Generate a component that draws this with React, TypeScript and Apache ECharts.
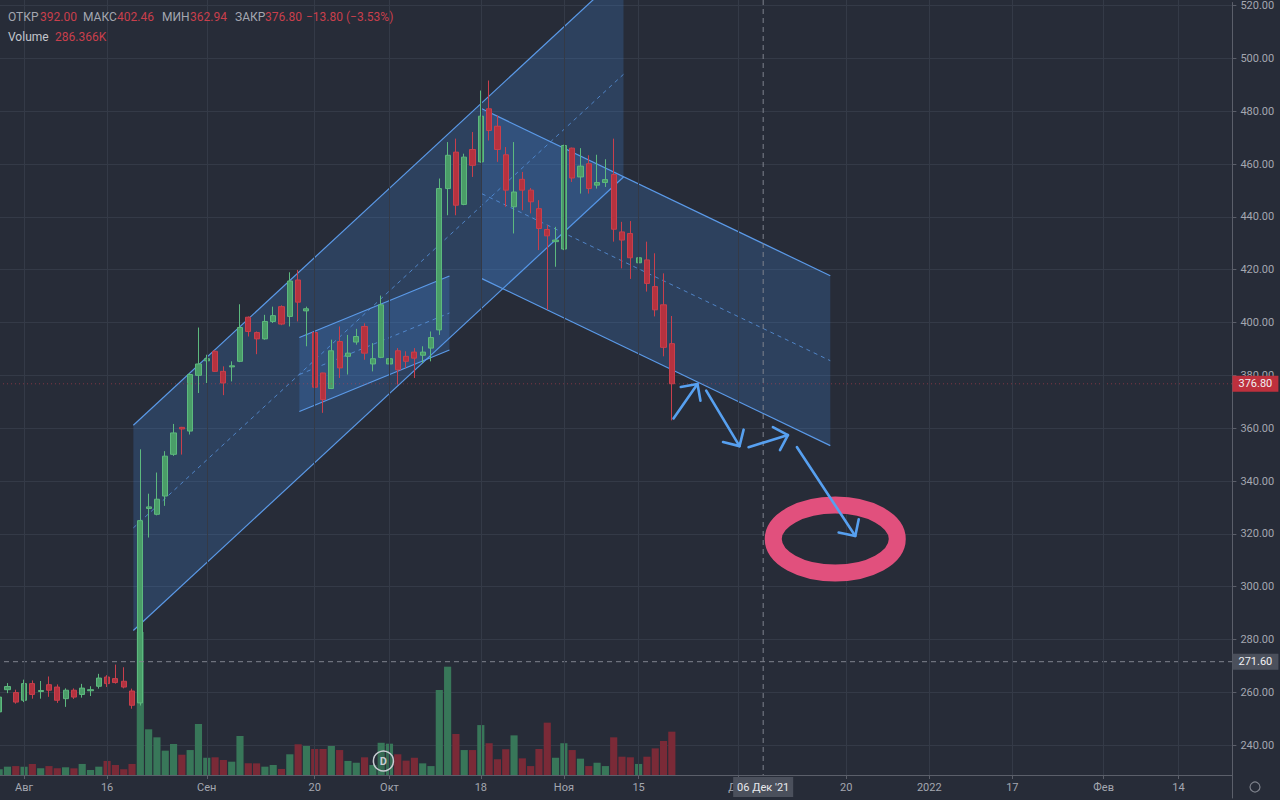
import React, { useEffect, useRef } from "react";
import * as echarts from "echarts";

// ---------- data ----------
// [date, open, close, low, high]
const candles: [string, number, number, number, number][] = [
  ["2021-07-28", 252.6, 258.2, 251.5, 259.0],
  ["2021-07-29", 261.0, 262.2, 259.7, 263.5],
  ["2021-07-30", 259.9, 256.3, 255.7, 261.0],
  ["2021-08-02", 257.0, 263.3, 256.3, 264.8],
  ["2021-08-03", 263.3, 259.2, 257.6, 264.5],
  ["2021-08-04", 260.3, 260.7, 257.6, 264.3],
  ["2021-08-05", 262.9, 260.8, 258.3, 266.0],
  ["2021-08-06", 262.0, 257.0, 256.0, 263.0],
  ["2021-08-09", 257.6, 260.8, 254.5, 261.5],
  ["2021-08-10", 260.8, 258.2, 257.5, 261.5],
  ["2021-08-11", 259.2, 261.6, 258.0, 263.2],
  ["2021-08-12", 260.6, 261.0, 258.6, 262.3],
  ["2021-08-13", 262.3, 265.4, 261.4, 267.0],
  ["2021-08-16", 265.8, 263.3, 262.0, 266.5],
  ["2021-08-17", 265.2, 263.7, 263.3, 270.5],
  ["2021-08-18", 264.2, 262.0, 261.5, 269.5],
  ["2021-08-19", 260.5, 255.1, 253.8, 261.4],
  ["2021-08-20", 256.0, 325.0, 255.0, 352.0],
  ["2021-08-23", 329.6, 330.2, 318.6, 335.2],
  ["2021-08-24", 327.4, 333.1, 327.0, 343.2],
  ["2021-08-25", 334.3, 349.4, 330.6, 351.3],
  ["2021-08-26", 350.1, 358.2, 349.5, 361.6],
  ["2021-08-27", 360.3, 359.7, 350.0, 360.5],
  ["2021-08-30", 358.9, 380.3, 357.6, 380.9],
  ["2021-08-31", 380.0, 384.3, 373.3, 398.1],
  ["2021-09-01", 385.5, 386.3, 377.1, 387.8],
  ["2021-09-02", 389.1, 381.5, 381.3, 389.5],
  ["2021-09-03", 381.5, 377.1, 372.5, 383.4],
  ["2021-09-06", 383.2, 383.6, 377.7, 385.3],
  ["2021-09-07", 385.3, 398.1, 385.0, 406.9],
  ["2021-09-08", 402.0, 396.6, 394.7, 402.3],
  ["2021-09-09", 396.2, 393.8, 388.0, 396.6],
  ["2021-09-10", 393.8, 400.4, 393.5, 402.9],
  ["2021-09-13", 400.4, 402.6, 399.8, 406.0],
  ["2021-09-14", 406.0, 399.4, 399.0, 406.5],
  ["2021-09-15", 402.3, 415.7, 398.5, 419.0],
  ["2021-09-16", 416.1, 407.7, 400.4, 419.9],
  ["2021-09-17", 404.4, 405.2, 391.0, 406.0],
  ["2021-09-20", 396.2, 375.5, 375.2, 399.7],
  ["2021-09-21", 380.9, 370.8, 365.8, 381.0],
  ["2021-09-22", 375.0, 389.3, 374.8, 393.5],
  ["2021-09-23", 392.8, 382.8, 379.0, 398.5],
  ["2021-09-24", 387.2, 388.4, 380.3, 395.3],
  ["2021-09-27", 392.6, 394.7, 391.6, 397.6],
  ["2021-09-28", 398.5, 388.4, 385.9, 399.7],
  ["2021-09-29", 384.3, 386.3, 381.5, 392.2],
  ["2021-09-30", 386.8, 406.7, 386.5, 410.2],
  ["2021-10-01", 384.3, 386.3, 381.5, 393.5],
  ["2021-10-04", 389.3, 382.1, 376.5, 390.3],
  ["2021-10-05", 387.2, 385.3, 382.8, 389.1],
  ["2021-10-06", 388.8, 386.5, 379.0, 390.3],
  ["2021-10-07", 387.6, 388.8, 384.7, 391.0],
  ["2021-10-08", 390.3, 394.3, 385.3, 396.6],
  ["2021-10-11", 397.2, 450.7, 395.3, 454.5],
  ["2021-10-12", 450.7, 463.3, 440.6, 468.3],
  ["2021-10-13", 464.5, 444.4, 440.6, 469.6],
  ["2021-10-14", 444.7, 462.6, 444.4, 463.9],
  ["2021-10-15", 465.5, 459.5, 455.1, 472.1],
  ["2021-10-18", 460.8, 478.1, 460.5, 487.8],
  ["2021-10-19", 480.9, 472.7, 468.9, 491.6],
  ["2021-10-20", 474.3, 465.5, 460.8, 478.4],
  ["2021-10-21", 463.5, 450.1, 443.8, 466.4],
  ["2021-10-22", 443.8, 449.4, 433.7, 468.3],
  ["2021-10-25", 454.2, 450.1, 442.5, 457.0],
  ["2021-10-26", 450.1, 445.7, 441.3, 450.9],
  ["2021-10-27", 443.1, 435.6, 427.4, 446.3],
  ["2021-10-28", 435.2, 432.8, 404.8, 436.9],
  ["2021-10-29", 430.6, 431.2, 421.1, 436.2],
  ["2021-11-01", 427.8, 467.0, 427.4, 467.3],
  ["2021-11-02", 466.0, 454.7, 453.2, 466.2],
  ["2021-11-03", 455.1, 459.2, 448.8, 466.0],
  ["2021-11-05", 460.1, 450.7, 448.8, 463.3],
  ["2021-11-08", 452.0, 453.0, 450.7, 463.5],
  ["2021-11-09", 453.0, 454.1, 451.3, 461.8],
  ["2021-11-10", 456.0, 435.3, 430.6, 469.6],
  ["2021-11-11", 434.3, 431.2, 420.5, 438.1],
  ["2021-11-12", 433.7, 424.5, 416.5, 438.4],
  ["2021-11-15", 422.6, 424.5, 421.8, 430.6],
  ["2021-11-16", 423.7, 414.8, 411.7, 430.6],
  ["2021-11-17", 413.6, 404.8, 402.3, 426.2],
  ["2021-11-18", 406.7, 390.6, 387.2, 418.6],
  ["2021-11-19", 392.0, 376.8, 362.94, 402.46],
];

// volume, thousands of shares
const volumes: number[] = [
  38, 55, 59, 55, 73, 44, 59, 44, 51, 44, 73, 33, 55, 93, 66, 38, 73, 945,
  302, 249, 161, 205, 134, 165, 337, 114, 117, 99, 88, 258, 77, 77, 55, 66,
  40, 137, 203, 192, 172, 172, 192, 165, 93, 81, 117, 66, 213, 207, 137, 95,
  114, 77, 59, 562, 716, 271, 165, 165, 330, 210, 104, 170, 262, 110, 59, 172,
  346, 114, 210, 165, 108, 59, 81, 59, 249, 121, 117, 73, 121, 176, 225,
  286.366,
];

// empty future slots on the time scale (weekdays)
const futureFirstDay = "2021-11-22";
const futureSlotCount = 67;

// time-axis tick labels
const xTickLabels: [string, string][] = [
  ["2021-08-02", "Авг"],
  ["2021-08-16", "16"],
  ["2021-09-01", "Сен"],
  ["2021-09-20", "20"],
  ["2021-10-01", "Окт"],
  ["2021-10-18", "18"],
  ["2021-11-01", "Ноя"],
  ["2021-11-15", "15"],
  ["2021-12-01", "Дек"],
  ["2021-12-20", "20"],
  ["2022-01-03", "2022"],
  ["2022-01-17", "17"],
  ["2022-02-01", "Фев"],
  ["2022-02-14", "14"],
];

// price scale range (visible)
const priceMin = 220;
const priceMax = 521.13;
const priceStep = 20;
const volumeMax = 5123;

// crosshair
const crossDate = "2021-12-06";
const crossDateLabel = "06 Дек '21";
const crossPrice = 271.6;

// drawings, in (bar index, price)
// [i1, top1, i2, top2, height]
const channels: [number, number, number, number, number][] = [
  [16.16, 361.1, 75.18, 532.8, 77.7],
  [36.15, 394.3, 54.22, 417.6, 28.0],
  [58.12, 480.9, 100.08, 417.7, 64.3],
];
// [tailIndex, tailPrice, headIndex, headPrice]
const arrows: [number, number, number, number][] = [
  [81.2, 363.7, 84.09, 376.7],
  [85.14, 374.2, 89.15, 353.2],
  [90.24, 352.8, 94.98, 357.4],
  [96.07, 352.8, 103.09, 319.2],
];
const targetCircle: [number, number] = [100.68, 318.0];
const dividendIndex = 46.27;

// ---------- helpers ----------
function buildFutureDates(first: string, n: number): string[] {
  const out: string[] = [];
  const d = new Date(first + "T00:00:00Z");
  while (out.length < n) {
    const wd = d.getUTCDay();
    if (wd !== 0 && wd !== 6) out.push(d.toISOString().slice(0, 10));
    d.setUTCDate(d.getUTCDate() + 1);
  }
  return out;
}

const OX = 5; // chart canvas starts 5px left of the page edge
const W = 1280 + OX;
const BG = "#272c38";
const GRID = "#343a47";
const AXIS = "#5b5f6a";
const TXT = "#a4a7b0";
const UP = "#4a9d68";
const UP_B = "#5db97e";
const DN = "#b5323f";
const DN_B = "#c93f4c";
const VUP = "#387759";
const VDN = "#7a2a37";
const CH_LINE = "#5b9ae8";
const CH_FILL = "rgba(70,140,230,0.22)";
const ARROW = "#57a0f0";
const PINK = "#e1507d";
const FONT = "Roboto, 'Noto Sans', sans-serif";

export default function App() {
  const ref = useRef<HTMLDivElement>(null);

  useEffect(() => {
    if (!ref.current) return;
    const chart = echarts.init(ref.current, undefined, { renderer: "svg" });

    const dates = candles.map((c) => c[0]).concat(buildFutureDates(futureFirstDay, futureSlotCount));
    const labelMap = new Map(xTickLabels);
    const ohlc = candles.map((c) => [c[1], c[2], c[3], c[4]]);
    const volData = volumes.map((v, i) => ({
      value: v,
      itemStyle: { color: candles[i][2] >= candles[i][1] ? VUP : VDN },
    }));

    const gridR = 47.6;

    chart.setOption({
      animation: false,
      backgroundColor: BG,
      grid: [
        { left: 0, right: gridR, top: 0, bottom: 2, containLabel: false },
        { left: 0, right: gridR, top: 0, bottom: 25, containLabel: false },
      ],
      xAxis: [
        { type: "category", gridIndex: 0, data: dates, boundaryGap: true, show: false },
        {
          type: "category",
          gridIndex: 1,
          data: dates,
          boundaryGap: true,
          axisLine: { show: true, lineStyle: { color: AXIS } },
          axisTick: {
            show: true,
            alignWithLabel: true,
            length: 4,
            interval: (_i: number, v: string) => labelMap.has(v),
            lineStyle: { color: AXIS },
          },
          axisLabel: {
            interval: (_i: number, v: string) => labelMap.has(v),
            formatter: (v: string) => labelMap.get(v) ?? "",
            color: TXT,
            fontSize: 11,
            fontFamily: FONT,
            margin: 7,
          },
          splitLine: { show: false },
        },
      ],
      yAxis: [
        {
          type: "value",
          gridIndex: 0,
          position: "right",
          min: priceMin,
          max: priceMax,
          interval: priceStep,
          axisLine: { show: true, lineStyle: { color: AXIS } },
          axisTick: { show: true, length: 4, lineStyle: { color: AXIS } },
          axisLabel: {
            color: TXT,
            fontSize: 11,
            fontFamily: FONT,
            margin: 8,
            showMinLabel: false,
            showMaxLabel: false,
            formatter: (v: number) => v.toFixed(2),
          },
          splitLine: {
            show: true,
            showMinLine: false,
            showMaxLine: false,
            lineStyle: { color: GRID, width: 1 },
          },
        },
        { type: "value", gridIndex: 1, min: 0, max: volumeMax, show: false },
      ],
      series: [
        {
          type: "bar",
          name: "Volume",
          xAxisIndex: 1,
          yAxisIndex: 1,
          data: volData,
          barWidth: "86%",
          z: 1,
          markLine: {
            silent: true,
            symbol: ["none", "none"],
            label: { show: false },
            lineStyle: { color: GRID, type: "solid", width: 1 },
            data: xTickLabels.map((t) => ({ xAxis: t[0] })),
          },
        },
        {
          type: "candlestick",
          name: "Price",
          xAxisIndex: 0,
          yAxisIndex: 0,
          data: ohlc,
          barWidth: "68%",
          z: 3,
          itemStyle: {
            color: UP,
            color0: DN,
            borderColor: UP_B,
            borderColor0: DN_B,
            borderWidth: 1,
          },
        },
      ],
    });

    // pixel conversion through the chart's own scales
    const a = chart.convertToPixel({ gridIndex: 0 }, [0, 300]) as number[];
    const b = chart.convertToPixel({ gridIndex: 0 }, [100, 500]) as number[];
    const P = (i: number, v: number): [number, number] => [
      a[0] + ((b[0] - a[0]) * i) / 100,
      a[1] + ((b[1] - a[1]) * (v - 300)) / 200,
    ];
    const right = W - gridR;
    const els: any[] = [];

    // channels
    channels.forEach(([i1, t1, i2, t2, h]) => {
      const p1 = P(i1, t1), p2 = P(i2, t2), p3 = P(i2, t2 - h), p4 = P(i1, t1 - h);
      const m1 = P(i1, t1 - h / 2), m2 = P(i2, t2 - h / 2);
      els.push({ type: "polygon", z: 2, silent: true, shape: { points: [p1, p2, p3, p4] }, style: { fill: CH_FILL } });
      els.push({ type: "line", z: 2, silent: true, shape: { x1: p1[0], y1: p1[1], x2: p2[0], y2: p2[1] }, style: { stroke: CH_LINE, lineWidth: 1.2 } });
      els.push({ type: "line", z: 2, silent: true, shape: { x1: p4[0], y1: p4[1], x2: p3[0], y2: p3[1] }, style: { stroke: CH_LINE, lineWidth: 1.2 } });
      els.push({ type: "line", z: 2, silent: true, shape: { x1: m1[0], y1: m1[1], x2: m2[0], y2: m2[1] }, style: { stroke: CH_LINE, lineWidth: 1, lineDash: [4, 4], opacity: 0.75 } });
    });

    // price line & crosshair
    const last = candles[candles.length - 1];
    const prev = candles[candles.length - 2];
    const yLast = P(0, last[2])[1];
    els.push({ type: "line", z: 4, silent: true, shape: { x1: 0, y1: yLast, x2: right, y2: yLast }, style: { stroke: "rgba(200,64,76,0.55)", lineWidth: 1, lineDash: [1, 3] } });
    const yCross = P(0, crossPrice)[1];
    const xCross = P(dates.indexOf(crossDate), 0)[0];
    els.push({ type: "line", z: 4, silent: true, shape: { x1: 0, y1: yCross, x2: right, y2: yCross }, style: { stroke: "#7f838e", lineWidth: 1, lineDash: [5, 4] } });
    els.push({ type: "line", z: 4, silent: true, shape: { x1: xCross, y1: 0, x2: xCross, y2: 775 }, style: { stroke: "#7f838e", lineWidth: 1, lineDash: [5, 4] } });

    // arrows
    arrows.forEach(([ti, tp, hi, hp]) => {
      const t = P(ti, tp), h = P(hi, hp);
      const ang = Math.atan2(t[1] - h[1], t[0] - h[0]);
      const L = 17;
      const b1 = [h[0] + L * Math.cos(ang + Math.PI / 4), h[1] + L * Math.sin(ang + Math.PI / 4)];
      const b2 = [h[0] + L * Math.cos(ang - Math.PI / 4), h[1] + L * Math.sin(ang - Math.PI / 4)];
      els.push({ type: "line", z: 10, silent: true, shape: { x1: t[0], y1: t[1], x2: h[0], y2: h[1] }, style: { stroke: ARROW, lineWidth: 2.6, lineCap: "round" } });
      els.push({ type: "polyline", z: 10, silent: true, shape: { points: [b1, h, b2] }, style: { stroke: ARROW, lineWidth: 2.6, fill: "none", lineCap: "round", lineJoin: "round" } });
    });

    // target ellipse
    const c = P(targetCircle[0], targetCircle[1]);
    els.push({ type: "ellipse", z: 9, silent: true, shape: { cx: c[0], cy: c[1], rx: 62, ry: 34 }, style: { fill: "none", stroke: PINK, lineWidth: 17 } });

    // dividend marker
    const dx = P(dividendIndex, 0)[0];
    els.push({ type: "circle", z: 10, silent: true, shape: { cx: dx, cy: 761, r: 10 }, style: { fill: "rgba(39,44,56,0.2)", stroke: "#c9ccd3", lineWidth: 1.5 } });
    els.push({ type: "text", z: 11, silent: true, style: { text: "D", x: dx, y: 761, fill: "#c9ccd3", font: `bold 11px ${FONT}`, align: "center", verticalAlign: "middle", textAlign: "center", textVerticalAlign: "middle" } });

    // price-axis boxes
    const box = (y: number, text: string, bg: string) => {
      els.push({ type: "rect", z: 12, silent: true, shape: { x: right, y: y - 8, width: 46, height: 16 }, style: { fill: bg } });
      els.push({ type: "text", z: 13, silent: true, style: { text, x: right + 23, y, fill: "#f0f1f4", font: `11px ${FONT}`, align: "center", verticalAlign: "middle", textAlign: "center", textVerticalAlign: "middle" } });
    };
    box(yLast, last[2].toFixed(2), "#be303d");
    box(yCross, crossPrice.toFixed(2), "#4b505c");

    // date crosshair box
    els.push({ type: "rect", z: 12, silent: true, shape: { x: xCross - 30, y: 777, width: 60, height: 20 }, style: { fill: "#4b505c" } });
    els.push({ type: "text", z: 13, silent: true, style: { text: crossDateLabel, x: xCross, y: 787, fill: "#e8e9ec", font: `11px ${FONT}`, align: "center", verticalAlign: "middle", textAlign: "center", textVerticalAlign: "middle" } });

    // gear icon
    els.push({ type: "circle", z: 12, silent: true, shape: { cx: 1255 + OX, cy: 787, r: 5 }, style: { fill: "none", stroke: "#7d818b", lineWidth: 1.2 } });

    // legend
    const chg = last[2] - prev[2];
    const pct = (chg / prev[2]) * 100;
    const fmt = (v: number) => (v < 0 ? "\u2212" : "+") + Math.abs(v).toFixed(2);
    const legendItems: [string, number, string][] = [
      ["ОТКР", 8, TXT],
      [last[1].toFixed(2), 40, DN_B],
      ["МАКС", 83, TXT],
      [last[4].toFixed(2), 117, DN_B],
      ["МИН", 162, TXT],
      [last[3].toFixed(2), 190, DN_B],
      ["ЗАКР", 235, TXT],
      [last[2].toFixed(2), 265, DN_B],
      [`${fmt(chg)} (${fmt(pct)}%)`, 306, DN_B],
    ];
    legendItems.forEach(([t, x, col]) => {
      els.push({ type: "text", z: 13, silent: true, style: { text: t, x: x + OX, y: 17, fill: col, font: `12px ${FONT}`, align: "left", verticalAlign: "middle", textAlign: "left", textVerticalAlign: "middle" } });
    });
    els.push({ type: "text", z: 13, silent: true, style: { text: "Volume", x: 8 + OX, y: 37, fill: "#c3c6cd", font: `12px ${FONT}`, align: "left", verticalAlign: "middle", textAlign: "left", textVerticalAlign: "middle" } });
    els.push({ type: "text", z: 13, silent: true, style: { text: `${volumes[volumes.length - 1].toFixed(3)}K`, x: 55 + OX, y: 37, fill: DN_B, font: `12px ${FONT}`, align: "left", verticalAlign: "middle", textAlign: "left", textVerticalAlign: "middle" } });

    chart.setOption({ graphic: { elements: els } });

    return () => chart.dispose();
  }, []);

  return (
    <div
      ref={ref}
      style={{ position: "absolute", left: -OX, top: 0, width: W, height: 800, background: BG }}
    />
  );
}
